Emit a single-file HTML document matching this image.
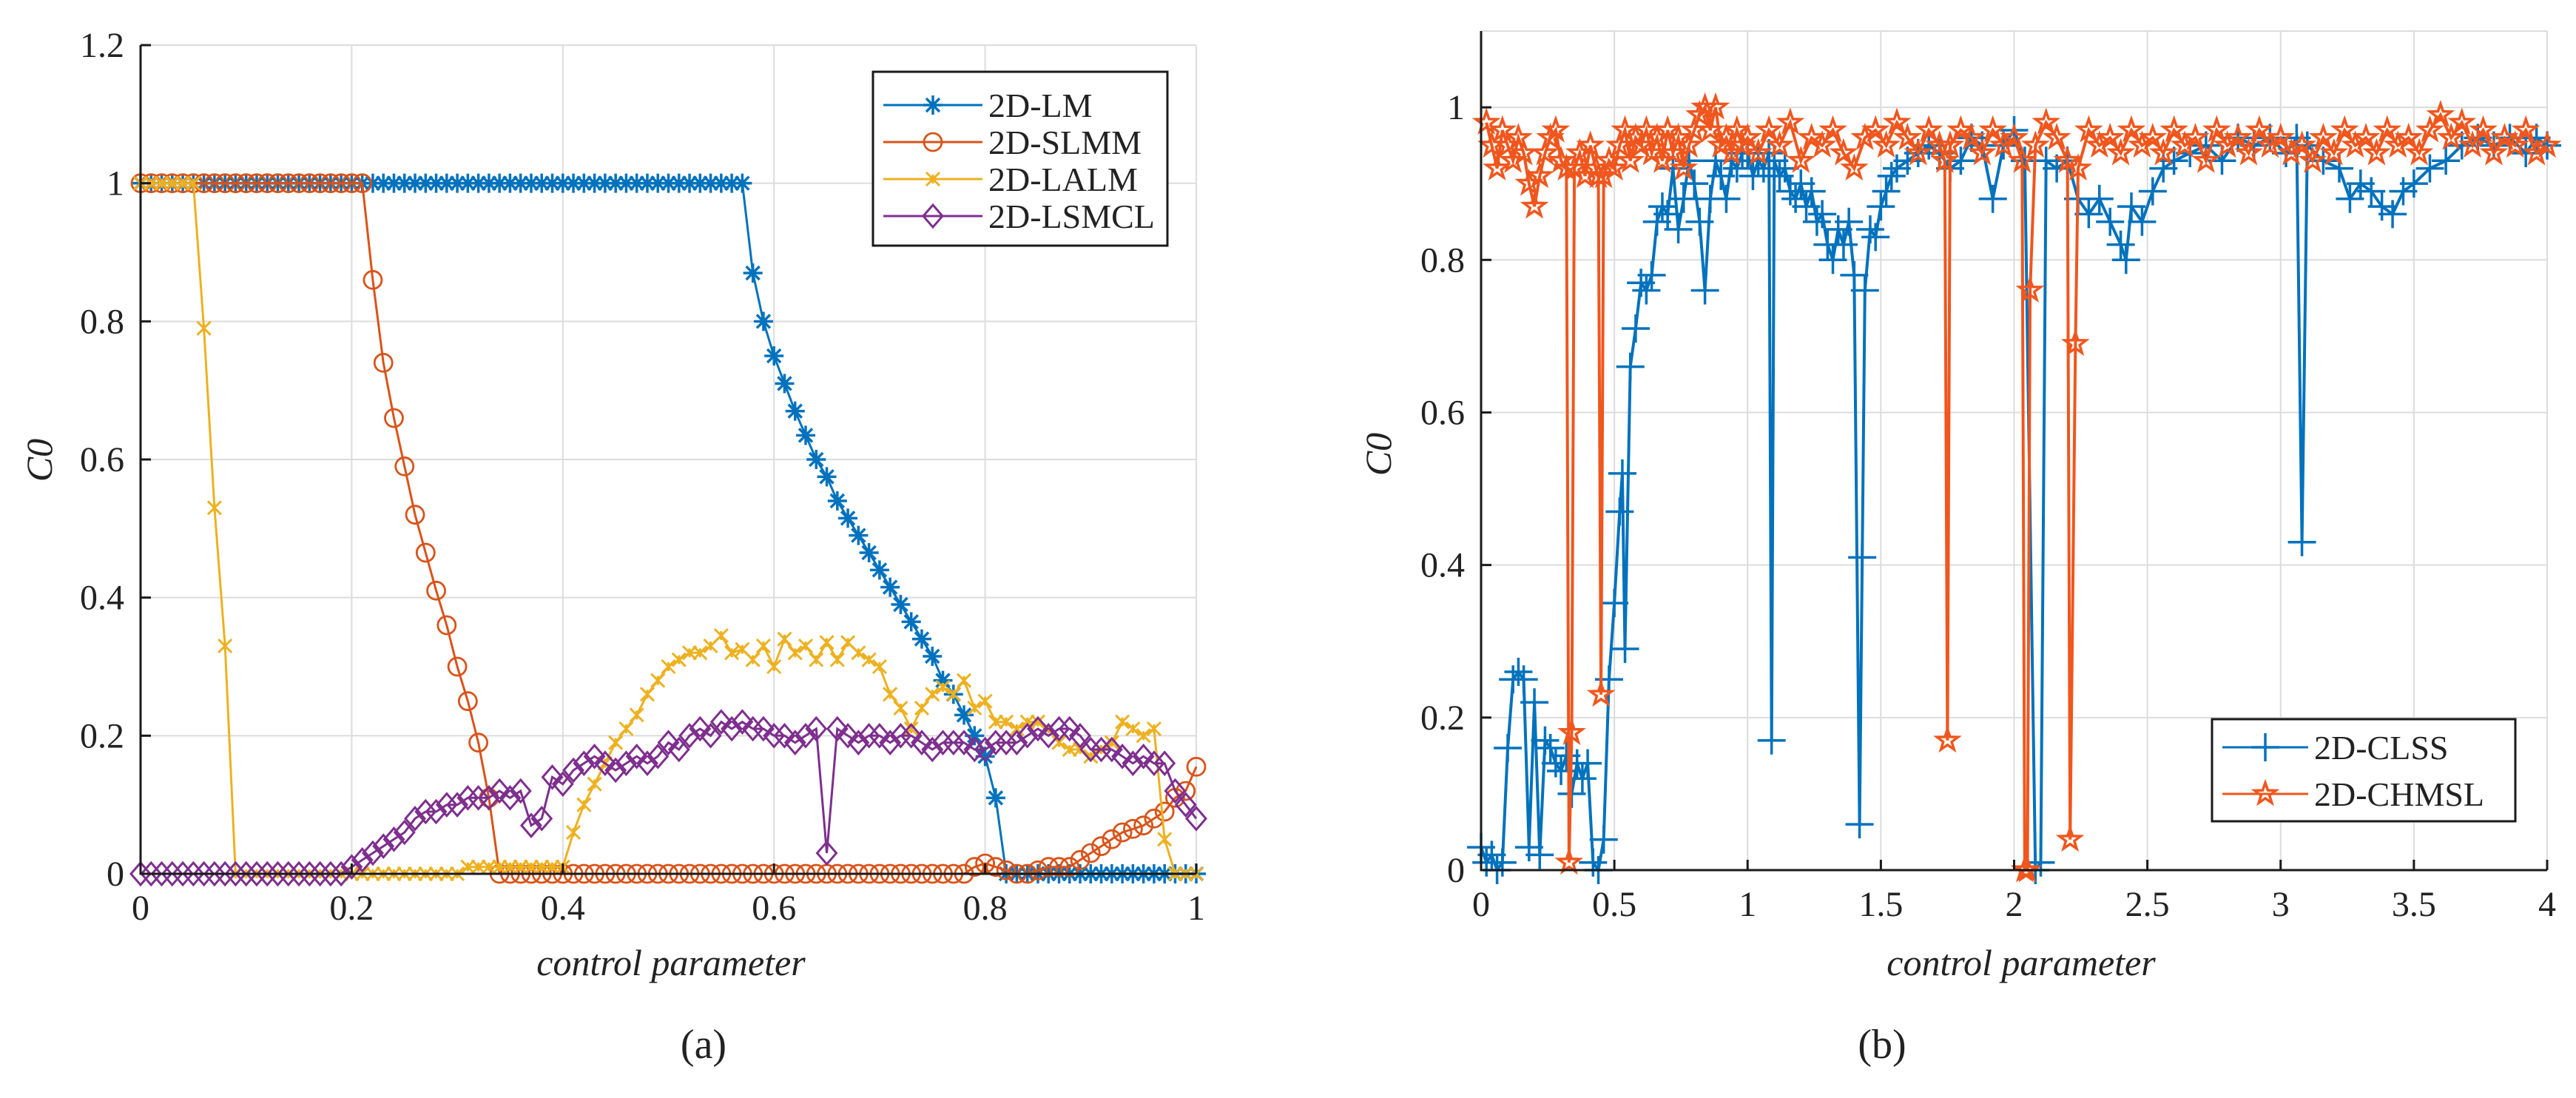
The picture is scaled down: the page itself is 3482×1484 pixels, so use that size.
<!DOCTYPE html>
<html><head><meta charset="utf-8"><style>
body{margin:0;background:#fff;}
svg text{font-family:"Liberation Serif",serif;fill:#222;}
</style></head><body>
<svg id="fig" width="3482" height="1479" xmlns="http://www.w3.org/2000/svg"></svg>
<script>
// ---- Chart (a) data ----
const aX = Array.from({length:101},(_,i)=>i/100);
const lmY = [1,1,1,1,1,1,1,1,1,1,1,1,1,1,1,1,1,1,1,1,1,1,1,1,1,1,1,1,1,1,1,1,1,1,1,1,1,1,1,1,1,1,1,1,1,1,1,1,1,1,1,1,1,1,1,1,1,1,
0.87,0.80,0.75,0.71,0.67,0.635,0.60,0.575,0.54,0.515,0.49,0.465,0.44,0.415,0.39,0.365,0.34,0.315,0.28,0.26,0.23,0.20,0.17,0.11,0,0,0,0,0,0,0,0,0,0,0,0,0,0,0,0,0,0,0,0];
const slmmY = [1,1,1,1,1,1,1,1,1,1,1,1,1,1,1,1,1,1,1,1,1,1,0.86,0.74,0.66,0.59,0.52,0.465,0.41,0.36,0.30,0.25,0.19,0.11,0,0,0,0,0,0,0,0,0,0,0,0,0,0,0,0,0,0,0,0,0,0,0,0,0,0,0,0,0,0,0,0,0,0,0,0,0,0,0,0,0,0,0,0,0,0.01,0.015,0.01,0.005,0,0,0.005,0.01,0.01,0.01,0.02,0.03,0.04,0.05,0.06,0.065,0.07,0.08,0.09,0.11,0.12,0.155];
const lalmY = [1,1,1,1,1,1,0.79,0.53,0.33,0,0,0,0,0,0,0,0,0,0,0,0,0,0,0,0,0,0,0,0,0,0,0.01,0.01,0.01,0.01,0.01,0.01,0.01,0.01,0.01,0.01,0.06,0.10,0.13,0.16,0.19,0.21,0.23,0.26,0.28,0.30,0.31,0.32,0.32,0.33,0.345,0.32,0.325,0.31,0.33,0.30,0.34,0.32,0.33,0.31,0.335,0.31,0.335,0.32,0.31,0.30,0.26,0.24,0.21,0.24,0.26,0.27,0.26,0.28,0.24,0.25,0.22,0.22,0.21,0.22,0.22,0.21,0.19,0.18,0.18,0.17,0.18,0.19,0.22,0.21,0.20,0.21,0.05,0,0,0];
const lsmclY = [0,0,0,0,0,0,0,0,0,0,0,0,0,0,0,0,0,0,0,0,0.01,0.02,0.03,0.04,0.05,0.06,0.08,0.09,0.09,0.10,0.10,0.11,0.11,0.11,0.12,0.11,0.12,0.07,0.08,0.14,0.13,0.15,0.16,0.17,0.16,0.15,0.16,0.17,0.16,0.17,0.19,0.18,0.20,0.21,0.20,0.22,0.21,0.22,0.21,0.21,0.20,0.20,0.19,0.20,0.21,0.03,0.21,0.20,0.19,0.20,0.20,0.19,0.20,0.20,0.19,0.18,0.19,0.19,0.19,0.18,0.18,0.19,0.19,0.19,0.20,0.21,0.20,0.21,0.21,0.20,0.18,0.18,0.18,0.17,0.16,0.17,0.16,0.16,0.12,0.10,0.08];
const aXTicks = [0,0.2,0.4,0.6,0.8,1];
const aXTickLabels = ["0","0.2","0.4","0.6","0.8","1"];
const aYTicks = [0,0.2,0.4,0.6,0.8,1,1.2];
const aYTickLabels = ["0","0.2","0.4","0.6","0.8","1","1.2"];
// ---- Chart (b) data ----
const clssX = [0,.02,.04,.06,.08,.1,.12,.14,.16,.18,.2,.22,.24,.26,.28,.30,.32,.34,.36,.38,.40,.42,.44,.46,.48,.50,.52,.53,.54,.56,.58,.60,.62,.64,.66,.68,.70,.72,.74,.76,.78,.80,.82,.84,.86,.88,.90,.92,.94,.96,.98,1.0,1.02,1.04,1.06,1.08,1.09,1.10,1.12,1.14,1.16,1.18,1.20,1.22,1.24,1.26,1.28,1.30,1.32,1.34,1.36,1.38,1.40,1.42,1.43,1.44,1.46,1.48,1.50,1.52,1.54,1.56,1.60,1.64,1.68,1.72,1.76,1.80,1.84,1.88,1.92,1.96,2.00,2.04,2.08,2.10,2.12,2.16,2.20,2.24,2.28,2.32,2.36,2.40,2.42,2.44,2.48,2.52,2.56,2.60,2.66,2.72,2.78,2.84,2.90,2.96,3.02,3.06,3.08,3.10,3.16,3.22,3.26,3.30,3.34,3.38,3.42,3.46,3.50,3.56,3.62,3.68,3.74,3.80,3.86,3.92,3.96,4.0];
const clssY = [.03,.01,.02,0,.01,.16,.25,.26,.25,.03,.22,.02,.17,.16,.14,.13,.15,.10,.14,.12,.14,.01,0,.04,.25,.35,.47,.52,.29,.66,.71,.77,.76,.78,.85,.87,.86,.92,.84,.88,.93,.90,.85,.76,.88,.93,.91,.88,.93,.92,.94,.94,.91,.93,.92,.94,.17,.93,.91,.92,.89,.88,.90,.87,.89,.85,.86,.82,.80,.84,.82,.85,.78,.06,.41,.76,.84,.83,.87,.89,.91,.92,.93,.94,.95,.94,.92,.93,.96,.95,.88,.95,.97,.93,0,.01,.93,.92,.93,.88,.86,.88,.85,.82,.80,.87,.85,.89,.92,.93,.94,.95,.93,.96,.95,.96,.94,.96,.43,.95,.93,.92,.88,.90,.89,.87,.86,.89,.90,.92,.93,.95,.96,.95,.96,.94,.96,.95];
const chmslX = [.02,.04,.06,.08,.10,.12,.14,.16,.18,.20,.22,.24,.26,.28,.30,.32,.33,.34,.35,.37,.39,.41,.43,.44,.45,.46,.48,.50,.52,.54,.56,.58,.60,.62,.64,.66,.68,.70,.72,.74,.76,.78,.80,.82,.84,.86,.88,.90,.92,.94,.96,.98,1.0,1.04,1.08,1.12,1.16,1.20,1.24,1.28,1.32,1.36,1.40,1.44,1.48,1.52,1.56,1.60,1.64,1.68,1.72,1.74,1.75,1.76,1.80,1.84,1.88,1.92,1.96,2.00,2.03,2.04,2.05,2.06,2.08,2.12,2.16,2.20,2.21,2.23,2.24,2.28,2.32,2.36,2.40,2.44,2.48,2.52,2.56,2.60,2.64,2.68,2.72,2.76,2.80,2.84,2.88,2.92,2.96,3.00,3.04,3.08,3.12,3.16,3.20,3.24,3.28,3.32,3.36,3.40,3.44,3.48,3.52,3.56,3.60,3.64,3.68,3.72,3.76,3.80,3.84,3.88,3.92,3.96,4.0];
const chmslY = [.98,.95,.92,.97,.95,.93,.96,.94,.90,.87,.91,.94,.96,.97,.93,.92,.01,.18,.92,.94,.91,.95,.92,.91,.23,.91,.93,.92,.95,.97,.93,.96,.95,.97,.94,.96,.93,.97,.94,.96,.92,.95,.97,.99,1.0,.97,1.0,.95,.96,.94,.97,.95,.96,.94,.97,.95,.98,.93,.96,.95,.97,.94,.92,.96,.97,.95,.98,.96,.94,.97,.95,.93,.17,.95,.97,.96,.94,.97,.95,.96,.93,0,0,.76,.95,.98,.96,.93,.04,.69,.92,.97,.95,.96,.94,.97,.95,.96,.94,.97,.95,.96,.93,.97,.95,.96,.94,.97,.95,.96,.94,.95,.93,.96,.94,.97,.95,.96,.94,.97,.95,.96,.94,.97,.99,.96,.98,.95,.97,.94,.96,.95,.97,.94,.95];
const bXTicks = [0,0.5,1,1.5,2,2.5,3,3.5,4];
const bXTickLabels = ["0","0.5","1","1.5","2","2.5","3","3.5","4"];
const bYTicks = [0,0.2,0.4,0.6,0.8,1];
const bYTickLabels = ["0","0.2","0.4","0.6","0.8","1"];

const NS="http://www.w3.org/2000/svg";
const svg=document.getElementById('fig');
function mk(tag,attrs,parent){const e=document.createElementNS(NS,tag);for(const k in attrs)e.setAttribute(k,attrs[k]);(parent||svg).appendChild(e);return e;}

function marker(g,type,x,y,c){
  let e;
  if(type==='star'){e=mk('path',{d:`M${x-13} ${y}H${x+13}M${x} ${y-13}V${y+13}M${x-9} ${y-9}L${x+9} ${y+9}M${x-9} ${y+9}L${x+9} ${y-9}`,stroke:c,'stroke-width':3.5,fill:'none'},g);}
  else if(type==='x'){e=mk('path',{d:`M${x-9} ${y-9}L${x+9} ${y+9}M${x-9} ${y+9}L${x+9} ${y-9}M${x} ${y-6}V${y+6}`,stroke:c,'stroke-width':3,fill:'none'},g);}
  else if(type==='circle'){e=mk('circle',{cx:x,cy:y,r:12,stroke:c,'stroke-width':2.8,fill:'none'},g);}
  else if(type==='diamond'){e=mk('path',{d:`M${x} ${y-15}L${x+13} ${y}L${x} ${y+15}L${x-13} ${y}Z`,stroke:c,'stroke-width':3,fill:'none'},g);}
  else if(type==='plus'){e=mk('path',{d:`M${x-19} ${y}H${x+19}M${x} ${y-19}V${y+19}`,stroke:c,'stroke-width':3.5,fill:'none'},g);}
  else if(type==='pent'){let p=[];for(let i=0;i<10;i++){const r=i%2?6:15;const a=-Math.PI/2+i*Math.PI/5;p.push((x+r*Math.cos(a)).toFixed(1)+','+(y+r*Math.sin(a)).toFixed(1));}
    e=mk('polygon',{points:p.join(' '),stroke:c,'stroke-width':3.5,fill:'none'},g);}
  
  
}

function chart(o){
  const g=mk('g',{});
  
  
  const sx=v=>o.x0+(v-o.xmin)/(o.xmax-o.xmin)*(o.x1-o.x0);
  const sy=v=>o.y0-(v-o.ymin)/(o.ymax-o.ymin)*(o.y0-o.y1);
  o.xt.forEach((t,i)=>{const l=mk('line',{x1:sx(t),x2:sx(t),y1:o.y1,y2:o.y0,stroke:'#dcdcdc','stroke-width':2},g);});
  o.yt.forEach(t=>{const l=mk('line',{x1:o.x0,x2:o.x1,y1:sy(t),y2:sy(t),stroke:'#dcdcdc','stroke-width':2},g);});
  mk('line',{x1:o.x0,x2:o.x1,y1:o.y1,y2:o.y1,stroke:'#dcdcdc','stroke-width':2},g);
  mk('line',{x1:o.x1,x2:o.x1,y1:o.y1,y2:o.y0,stroke:'#dcdcdc','stroke-width':2},g);
  o.series.forEach(s=>{
    const sg=mk('g',{},g);
    
    
    const pts=s.x.map((v,i)=>sx(v).toFixed(1)+','+sy(s.y[i]).toFixed(1)).join(' ');
    const pl=mk('polyline',{points:pts,stroke:s.c,'stroke-width':o.lw,fill:'none'},sg);
    
    
    s.x.forEach((v,i)=>marker(sg,s.m,sx(v),sy(s.y[i]),s.c));
  });
  const ax=mk('path',{d:`M${o.x0} ${o.y1}V${o.y0}H${o.x1}`,stroke:'#1a1a1a','stroke-width':3,fill:'none'},g);
  
  
  o.xt.forEach((t,i)=>{mk('line',{x1:sx(t),x2:sx(t),y1:o.y0,y2:o.y0-14,stroke:'#1a1a1a','stroke-width':3},g);
    const tx=mk('text',{x:sx(t),y:o.y0+62,'text-anchor':'middle','font-size':48},g);tx.textContent=o.xl[i];
    });
  o.yt.forEach((t,i)=>{mk('line',{x1:o.x0,x2:o.x0+14,y1:sy(t),y2:sy(t),stroke:'#1a1a1a','stroke-width':3},g);
    const tx=mk('text',{x:o.x0-22,y:sy(t)+16,'text-anchor':'end','font-size':48},g);tx.textContent=o.yl[i];
    });
  const xt=mk('text',{x:o.xtx,y:o.xty,'text-anchor':'middle','font-size':50,'font-style':'italic'},g);xt.textContent='control parameter';
  
  const yt=mk('text',{x:0,y:0,'text-anchor':'middle','font-size':50,'font-style':'italic',transform:`translate(${o.ytx},${o.yty}) rotate(-90)`},g);yt.textContent='C0';
  
  const cap=mk('text',{x:o.capx,y:o.capy,'text-anchor':'middle','font-size':56},g);cap.textContent=o.cap;
  
  const L=o.leg;
  const lg=mk('g',{},g);
  
  
  mk('rect',{x:L.x,y:L.y,width:L.w,height:L.h,fill:'#fff',stroke:'#1a1a1a','stroke-width':3},lg);
  o.series.forEach((s,i)=>{
    const cy=L.y+L.pad+i*L.step;
    const e=mk('g',{},lg);
    
    
    mk('line',{x1:L.x+14,x2:L.x+L.lw,y1:cy,y2:cy,stroke:s.c,'stroke-width':3},e);
    marker(e,s.m,L.x+(14+L.lw)/2,cy,s.c);
    const t=mk('text',{x:L.x+L.lw+8,y:cy+16,'font-size':L.fs},e);t.textContent=s.label;
  });
}

chart({name:'chart-a',x0:190,x1:1617,y0:1181,y1:61,xmin:0,xmax:1,ymin:0,ymax:1.2,xt:aXTicks,xl:aXTickLabels,yt:aYTicks,yl:aYTickLabels,lw:3,
  xtx:907,xty:1318,ytx:70,yty:622,cap:'(a)',capx:951,capy:1430,
  leg:{x:1180,y:97,w:398,h:235,pad:45,step:50,lw:148,fs:46},
  series:[{label:'2D-LM',x:aX,y:lmY,c:'#0072BD',m:'star'},{label:'2D-SLMM',x:aX,y:slmmY,c:'#D95319',m:'circle'},
          {label:'2D-LALM',x:aX,y:lalmY,c:'#EDB120',m:'x'},{label:'2D-LSMCL',x:aX,y:lsmclY,c:'#7E2F8E',m:'diamond'}]});
chart({name:'chart-b',x0:2002,x1:3443,y0:1176,y1:42,xmin:0,xmax:4,ymin:0,ymax:1.1,xt:bXTicks,xl:bXTickLabels,yt:bYTicks,yl:bYTickLabels,lw:4,
  xtx:2732,xty:1318,ytx:1880,yty:614,cap:'(b)',capx:2544,capy:1430,
  leg:{x:2990,y:972,w:410,h:138,pad:38,step:63,lw:130,fs:46},
  series:[{label:'2D-CLSS',x:clssX,y:clssY,c:'#0072BD',m:'plus'},{label:'2D-CHMSL',x:chmslX,y:chmslY,c:'#F0561D',m:'pent'}]});
</script>
</body></html>
